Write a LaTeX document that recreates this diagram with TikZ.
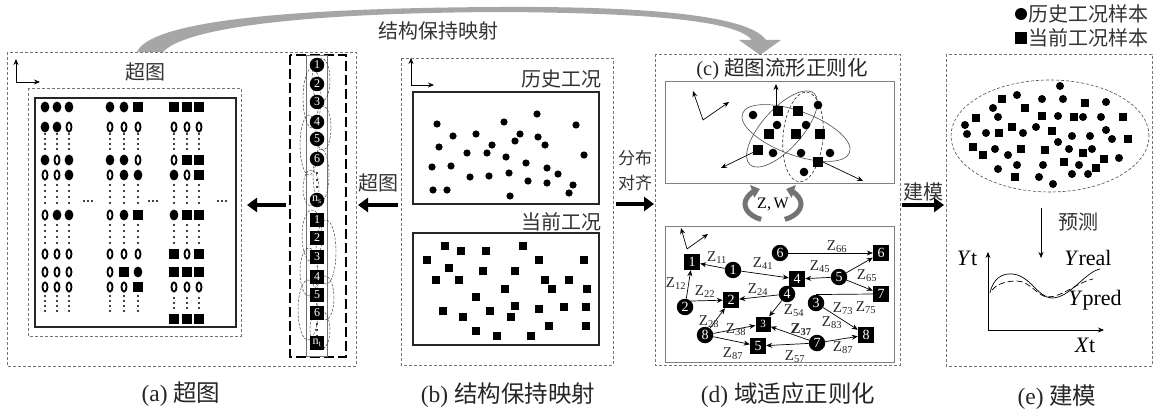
\documentclass[tikz,border=0pt]{standalone}
\usepackage{fontspec}
\setmainfont{Liberation Serif}
\newfontfamily\cjk{Noto Sans CJK SC}
\usetikzlibrary{arrows.meta,shapes.geometric}
\begin{document}
\begin{tikzpicture}[x=1pt,y=-1pt,
  panel/.style={draw=black!55, line width=0.6pt, dash pattern=on 3pt off 2pt},
  bigarrow/.style={line width=4.5pt, -{Triangle[length=10pt,width=14pt]}},
  thinarrow/.style={line width=0.7pt, -{Stealth[length=6pt,width=5pt]}},
  cntext/.style={font=\cjk\fontsize{20}{24}\selectfont, text=black!80, inner sep=0pt},
  captext/.style={font=\fontsize{23.5}{26}\selectfont, text=black!85, inner sep=0pt},
  hgc/.style={circle, fill=black, text=white, inner sep=0pt, minimum size=14.5pt, font=\fontsize{12}{12}\selectfont},
  hgs/.style={rectangle, fill=black, text=white, inner sep=0pt, minimum size=13.5pt, font=\fontsize{12}{12}\selectfont},
  gc/.style={circle, fill=black, text=white, inner sep=0pt, minimum size=16.5pt, font=\fontsize{14}{14}\selectfont},
  gs/.style={rectangle, fill=black, text=white, inner sep=0pt, minimum size=16pt, font=\fontsize{14}{14}\selectfont},
  edge/.style={line width=0.7pt, -{Stealth[length=6pt,width=5pt]}},
  zl/.style={font=\fontsize{15}{15}\selectfont, text=black!85, inner sep=0pt},
  hdash/.style={draw=black!80, line width=0.45pt, dash pattern=on 2.5pt off 1.5pt},
  cellc/.pic={\fill[black] (0,0) ellipse [x radius=4.4pt, y radius=5.4pt];},
  cello/.pic={\draw[black, line width=1.8pt] (0,0) ellipse [x radius=2.5pt, y radius=4.6pt];},
  cells/.pic={\fill[black] (-4.7pt,-4.7pt) rectangle (4.7pt,4.7pt);},
  celln/.pic={},
]
\useasboundingbox (0,0) rectangle (1161,417);

% ---------- top ribbon arrow ----------
\fill[black!35] (137,52) .. controls (150,22) and (280,8) .. (500,7)
  .. controls (680,6) and (752,20) .. (766,40) -- (781,40) -- (760,55) -- (739,40) -- (752,40)
  .. controls (738,23) and (670,13) .. (500,12)
  .. controls (300,13) and (185,28) .. (163,52) -- cycle;
\node[cntext] (tmap) at (438,31) {结构保持映射};

% ---------- panel (a) ----------
\draw[panel] (7,52) rectangle (356,366);
\coordinate (aO) at (16,82);
\coordinate (aY) at (16,59);
\coordinate (aX) at (40,82);
\draw[thinarrow] (aO) -- (aY);
\draw[thinarrow] (aO) -- (aX);
\node[cntext] (tA) at (145,72) {超图};
\draw[panel] (28,88) rectangle (241,336);
\draw[line width=2pt, black!85] (35,98) rectangle (236,327);

\foreach \y/\a/\b/\c/\d/\e/\f/\g/\h/\k in {
  107/c/c/c/c/c/s/s/s/s,
  127/c/c/o/o/o/o/o/o/o,
  160/c/o/c/c/c/o/o/s/s,
  175/o/o/c/o/c/c/c/o/s,
  215/o/c/c/o/c/s/c/s/s,
  254/o/o/o/o/o/o/s/o/s,
  272/o/o/o/o/s/c/s/s/s,
  287/o/o/o/o/o/s/o/o/o,
  319/n/n/n/n/n/n/s/s/s}{
  \pic at (45,\y) {cell\a}; \pic at (57,\y) {cell\b}; \pic at (69,\y) {cell\c};
  \pic at (110,\y) {cell\d}; \pic at (124,\y) {cell\e}; \pic at (138,\y) {cell\f};
  \pic at (174,\y) {cell\g}; \pic at (187,\y) {cell\h}; \pic at (199,\y) {cell\k};
}
\foreach \cx in {45,57,69,110,124,138,174,187,199}{
  \foreach \yy in {134,139,144,149, 185,191,197,203, 225,231,237,243}{
    \fill (\cx,\yy) circle (1.1pt);}
}
\foreach \cx in {45,57,69,110,124,138}{
  \foreach \yy in {296,301,306,311}{\fill (\cx,\yy) circle (1.1pt);}
}
\foreach \cx in {174,187,199}{
  \foreach \yy in {298,303,308}{\fill (\cx,\yy) circle (1.1pt);}
}
\foreach \cx in {88,153,222}{
  \foreach \dx in {-4,0,4}{\fill (\cx+\dx,201) circle (1.1pt);}
}

% hypergraph column
\draw[line width=2pt, dash pattern=on 10pt off 4pt] (290,55) rectangle (346,357);
\draw[black!55, line width=0.8pt] (306,55) rectangle (327,356);
\foreach \cx/\cy/\rx/\ry in {321/80/9/22, 312/98/9/30, 323/128/8/22, 309/145/9/30, 321/175/8/26, 311/188/8/18,
  312/236/10/26, 326/252/10/32, 309/272/9/24, 325/298/9/22, 308/310/10/30, 320/330/10/20}{
  \draw[hdash] (\cx,\cy) ellipse [x radius=\rx pt, y radius=\ry pt];
}
\foreach \n/\y in {1/65,2/84,3/102,4/122,5/139,6/159}{
  \node[hgc] (hc\n) at (317,\y) {\n};
}
\node[hgc] (hcs) at (317,200) {n\textsubscript{s}};
\foreach \n/\y in {1/220,2/238,3/257,4/277,5/295,6/313}{
  \node[hgs] (hs\n) at (317,\y) {\n};
}
\node[hgs] (hst) at (317,343) {n\textsubscript{t}};
\foreach \yy in {173,180,187}{\fill (317,\yy) circle (1.1pt);}
\foreach \yy in {324,330,336}{\fill (317,\yy) circle (1.1pt);}

% arrows between (a) and (b)
\coordinate (a1s) at (286,205); \coordinate (a1e) at (247,205);
\draw[bigarrow] (a1s) -- (a1e);
\coordinate (a2s) at (398,205); \coordinate (a2e) at (358,205);
\draw[bigarrow] (a2s) -- (a2e);
\node[cntext] (tB) at (378,183) {超图};

% ---------- panel (b) ----------
\draw[panel] (401,58) rectangle (613,365);
\coordinate (bO) at (411,85);
\coordinate (bY) at (411,58);
\coordinate (bX) at (434,85);
\draw[thinarrow] (bO) -- (bY);
\draw[thinarrow] (bO) -- (bX);
\node[cntext, anchor=east] (thist) at (602,79) {历史工况};
\draw[line width=1.1pt, black!85] (413,92) rectangle (599,204);
\node[cntext, anchor=east] (tcur) at (602,222) {当前工况};
\draw[line width=1.1pt, black!85] (413,233) rectangle (599,345);
\foreach \px/\py in {437/124,453/136,476/134,504/122,537/114,576/125,439/147,467/153,487/153,492/145,
  520/134,515/141,538/137,545/145,584/155,432/167,451/166,506/157,526/163,547/168,558/174,470/177,
  489/176,509/173,528/181,547/183,433/190,447/190,510/196,573/185,569/193}{
  \fill (\px,\py) circle (3.6pt);
}
\foreach \px/\py in {445/246,461/251,486/251,523/246,427/260,539/260,584/260,449/268,483/271,515/271,
  436/280,459/280,545/280,569/280,505/289,552/289,587/289,476/297,443/311,463/317,490/311,515/306,
  511/317,539/309,564/307,586/307,549/326,586/326,476/331,497/336,531/336}{
  \fill (\px-4.2,\py-4.2) rectangle (\px+4.2,\py+4.2);
}

% arrow (b) -> (c/d)
\coordinate (a3s) at (616,204); \coordinate (a3e) at (654,204);
\draw[bigarrow] (a3s) -- (a3e);
\node[font=\cjk\fontsize{17}{20}\selectfont, text=black!80, inner sep=0pt] (tfb) at (635,158) {分布};
\node[font=\cjk\fontsize{17}{20}\selectfont, text=black!80, inner sep=0pt] (tdq) at (635,183) {对齐};

% ---------- panel (c)/(d) ----------
\draw[panel] (655,54) rectangle (900,365);
\node[captext, font=\fontsize{20.5}{24}\selectfont] (tC) at (782,69) {(c)~{\cjk 超图流形正则化}};
\draw[black!50, line width=0.8pt] (665,81) rectangle (894,183);
\coordinate (cO) at (703,120);
\coordinate (cY) at (693,91);
\coordinate (cX) at (729,102);
\draw[thinarrow] (cO) -- (cY);
\draw[thinarrow] (cO) -- (cX);
\draw[black!70, line width=0.6pt, rotate around={-20:(796,133)}] (796,133) ellipse [x radius=57pt, y radius=22pt];
\draw[black!70, line width=0.6pt, rotate around={48:(782,129)}] (782,129) ellipse [x radius=48pt, y radius=20pt];
\draw[black!80, line width=0.6pt, dash pattern=on 3pt off 2pt, rotate around={-5:(803,137)}] (803,137) ellipse [x radius=20pt, y radius=45pt];
\foreach \px/\py in {753/115,777/125,818/105,806/125,773/153,801/153,830/153,804/172}{
  \fill (\px,\py) circle (4.3pt);
}
\foreach \px/\py in {778/111,798/111,769/134,796/134,820/134,758/150,818/162}{
  \fill (\px-4.6,\py-4.6) rectangle (\px+4.6,\py+4.6);
}
\coordinate (cu1) at (776,108); \coordinate (cu2) at (776,84);
\draw[thinarrow] (cu1) -- (cu2);
\coordinate (cl1) at (758,150); \coordinate (cl2) at (721,168);
\draw[thinarrow] (cl1) -- (cl2);
\coordinate (cr1) at (823,162); \coordinate (cr2) at (863,181);
\draw[thinarrow] (cr1) -- (cr2);

% cycle arrows Z,W
\draw[black!55, line width=5pt, -{Triangle[length=8pt,width=13pt]}]
  ([shift={(245:28pt and 17pt)}]773,204) arc[start angle=245, end angle=118, x radius=28pt, y radius=17pt];
\draw[black!55, line width=5pt, -{Triangle[length=8pt,width=13pt]}]
  ([shift={(-65:28pt and 17pt)}]773,204) arc[start angle=-65, end angle=62, x radius=28pt, y radius=17pt];
\node[font=\fontsize{16}{16}\selectfont, inner sep=0pt] (tzw) at (773,204) {Z,\,W};

% (d)
\draw[black!50, line width=0.8pt] (665,226) rectangle (894,362);
\coordinate (dO) at (687,249);
\coordinate (dY) at (681,228);
\coordinate (dX) at (708,234);
\draw[thinarrow] (dO) -- (dY);
\draw[thinarrow] (dO) -- (dX);
\node[gs] (S1) at (692,262) {1};
\node[gs] (S4) at (797,279) {4};
\node[gs] (S6) at (881,253) {6};
\node[gs] (S7) at (881,294) {7};
\node[gs] (S2) at (731,300) {2};
\node[gs, minimum size=15pt, font=\fontsize{11}{11}\selectfont] (S3) at (763,324) {3};
\node[gs] (S8) at (866,335) {8};
\node[gs] (S5) at (758,346) {5};
\node[gc] (C1) at (733,270) {1};
\node[gc] (C6) at (780,253) {6};
\node[gc] (C5) at (839,277) {5};
\node[gc] (C4) at (787,294) {4};
\node[gc] (C3) at (816,303) {3};
\node[gc] (C2) at (685,307) {2};
\node[gc] (C8) at (705,335) {8};
\node[gc] (C7) at (817,343) {7};
\draw[edge] (C1) -- (S1);
\draw[edge] (C1) -- (S4);
\draw[edge] (C6) -- (S6);
\draw[edge] (C5) -- (S4);
\draw[edge] (C5) -- (S6);
\draw[edge] (C5) -- (S7);
\draw[line width=0.7pt] (C3.north) -- (S7.west);
\draw[edge] (C3) -- (S8);
\draw[edge] (C2) -- (S1);
\draw[edge] (C2.north east) -- (S2);
\draw[edge] (C4) -- (S2);
\draw[edge] (C4) -- (S3);
\draw[edge] (C8) -- (S2);
\draw[edge] (C8) -- (S3);
\draw[edge] (C8) -- (S5);
\draw[edge] (C7) -- (S3);
\draw[edge] (C7) -- (S8);
\draw[edge] (C7) -- (S5);
\node[zl] (z11) at (717,258) {Z\textsubscript{11}};
\node[zl] (z41) at (763,264) {Z\textsubscript{41}};
\node[zl] (z66) at (837,247) {Z\textsubscript{66}};
\node[zl] (z45) at (820,267) {Z\textsubscript{45}};
\node[zl] (z65) at (867,276) {Z\textsubscript{65}};
\node[zl] (z12) at (676,284) {Z\textsubscript{12}};
\node[zl] (z22) at (705,292) {Z\textsubscript{22}};
\node[zl] (z24) at (758,290) {Z\textsubscript{24}};
\node[zl] (z73) at (843,309) {Z\textsubscript{73}};
\node[zl] (z75) at (866,308) {Z\textsubscript{75}};
\node[zl] (z54) at (794,311) {Z\textsubscript{54}};
\node[zl] (z83) at (832,323) {Z\textsubscript{83}};
\node[zl] (z28) at (709,322) {Z\textsubscript{28}};
\node[zl] (z38) at (736,330) {Z\textsubscript{38}};
\node[zl, font=\bfseries\fontsize{15}{15}\selectfont] (z37) at (801,330) {Z\textsubscript{37}};
\node[zl] (z87a) at (843,348) {Z\textsubscript{87}};
\node[zl] (z87b) at (733,354) {Z\textsubscript{87}};
\node[zl] (z57) at (795,357) {Z\textsubscript{57}};

% arrow -> (e)
\coordinate (a4s) at (902,205); \coordinate (a4e) at (944,205);
\draw[bigarrow] (a4s) -- (a4e);
\node[cntext] (tjm) at (923,192) {建模};

% ---------- panel (e) ----------
\fill (1021,14) circle (6pt);
\node[cntext, anchor=west] (leg1) at (1028,14) {历史工况样本};
\fill (1015,32) rectangle (1027,44);
\node[cntext, anchor=west] (leg2) at (1028,38) {当前工况样本};
\draw[panel] (946,54) rectangle (1152,366);
\draw[black!70, line width=0.6pt, dash pattern=on 3pt off 2pt] (1050,136) ellipse [x radius=99pt, y radius=56pt];
\foreach \px/\py in {1060/86,1017/95,1042/99,1063/99,1106/102,993/108,998/117,1058/116,1083/117,1101/117,
  965/125,967/134,986/133,1023/133,1036/127,1106/130,1072/136,1090/136,1112/139,1058/142,995/149,1069/149,
  1092/149,1008/155,1119/158,1017/165,1043/165,1079/165,998/169,1039/177,1072/174,1088/174,1053/184}{
  \fill (\px,\py) circle (4pt);
}
\foreach \px/\py in {1002/99,1085/103,1025/108,976/118,1042/116,1074/117,1123/117,1012/127,999/133,1052/131,
  1128/139,973/147,1021/149,1045/150,983/155,1083/153,1104/159,1064/162,1096/168,1015/177}{
  \fill (\px-4.3,\py-4.3) rectangle (\px+4.3,\py+4.3);
}
\coordinate (p1) at (1041,208); \coordinate (p2) at (1041,258);
\draw[thinarrow] (p1) -- (p2);
\node[cntext] (tyc) at (1078,222) {预测};
\coordinate (eO) at (988,330);
\coordinate (eY) at (988,252);
\coordinate (eX) at (1104,330);
\draw[thinarrow] (eO) -- (eY);
\draw[thinarrow] (eO) -- (eX);
\draw[line width=0.7pt] (990,293) .. controls (993,278) and (1003,273) .. (1012,274)
  .. controls (1030,275) and (1038,298) .. (1052,298) .. controls (1070,298) and (1085,272) .. (1100,269);
\draw[line width=0.7pt, dash pattern=on 6pt off 3pt] (992,290) .. controls (998,283) and (1008,281) .. (1017,281)
  .. controls (1030,281) and (1038,297) .. (1048,297) .. controls (1062,297) and (1078,282) .. (1093,279);
\node[font=\fontsize{22}{22}\selectfont, inner sep=0pt] (lyt) at (967,258) {\textit{Y}t};
\node[font=\fontsize{22}{22}\selectfont, inner sep=0pt] (lxt) at (1085,345) {\textit{X}t};
\node[font=\fontsize{22}{22}\selectfont, inner sep=0pt] (lyr) at (1088,258) {\textit{Y}real};
\node[font=\fontsize{22}{22}\selectfont, inner sep=0pt] (lyp) at (1095,300) {\textit{Y}pred};

% ---------- captions ----------
\node[captext] (capa) at (181,394) {(a)~{\cjk 超图}};
\node[captext] (capb) at (508,395) {(b)~{\cjk 结构保持映射}};
\node[captext] (capd) at (788,395) {(d)~{\cjk 域适应正则化}};
\node[captext] (cape) at (1057,397) {(e)~{\cjk 建模}};
\end{tikzpicture}
\end{document}
